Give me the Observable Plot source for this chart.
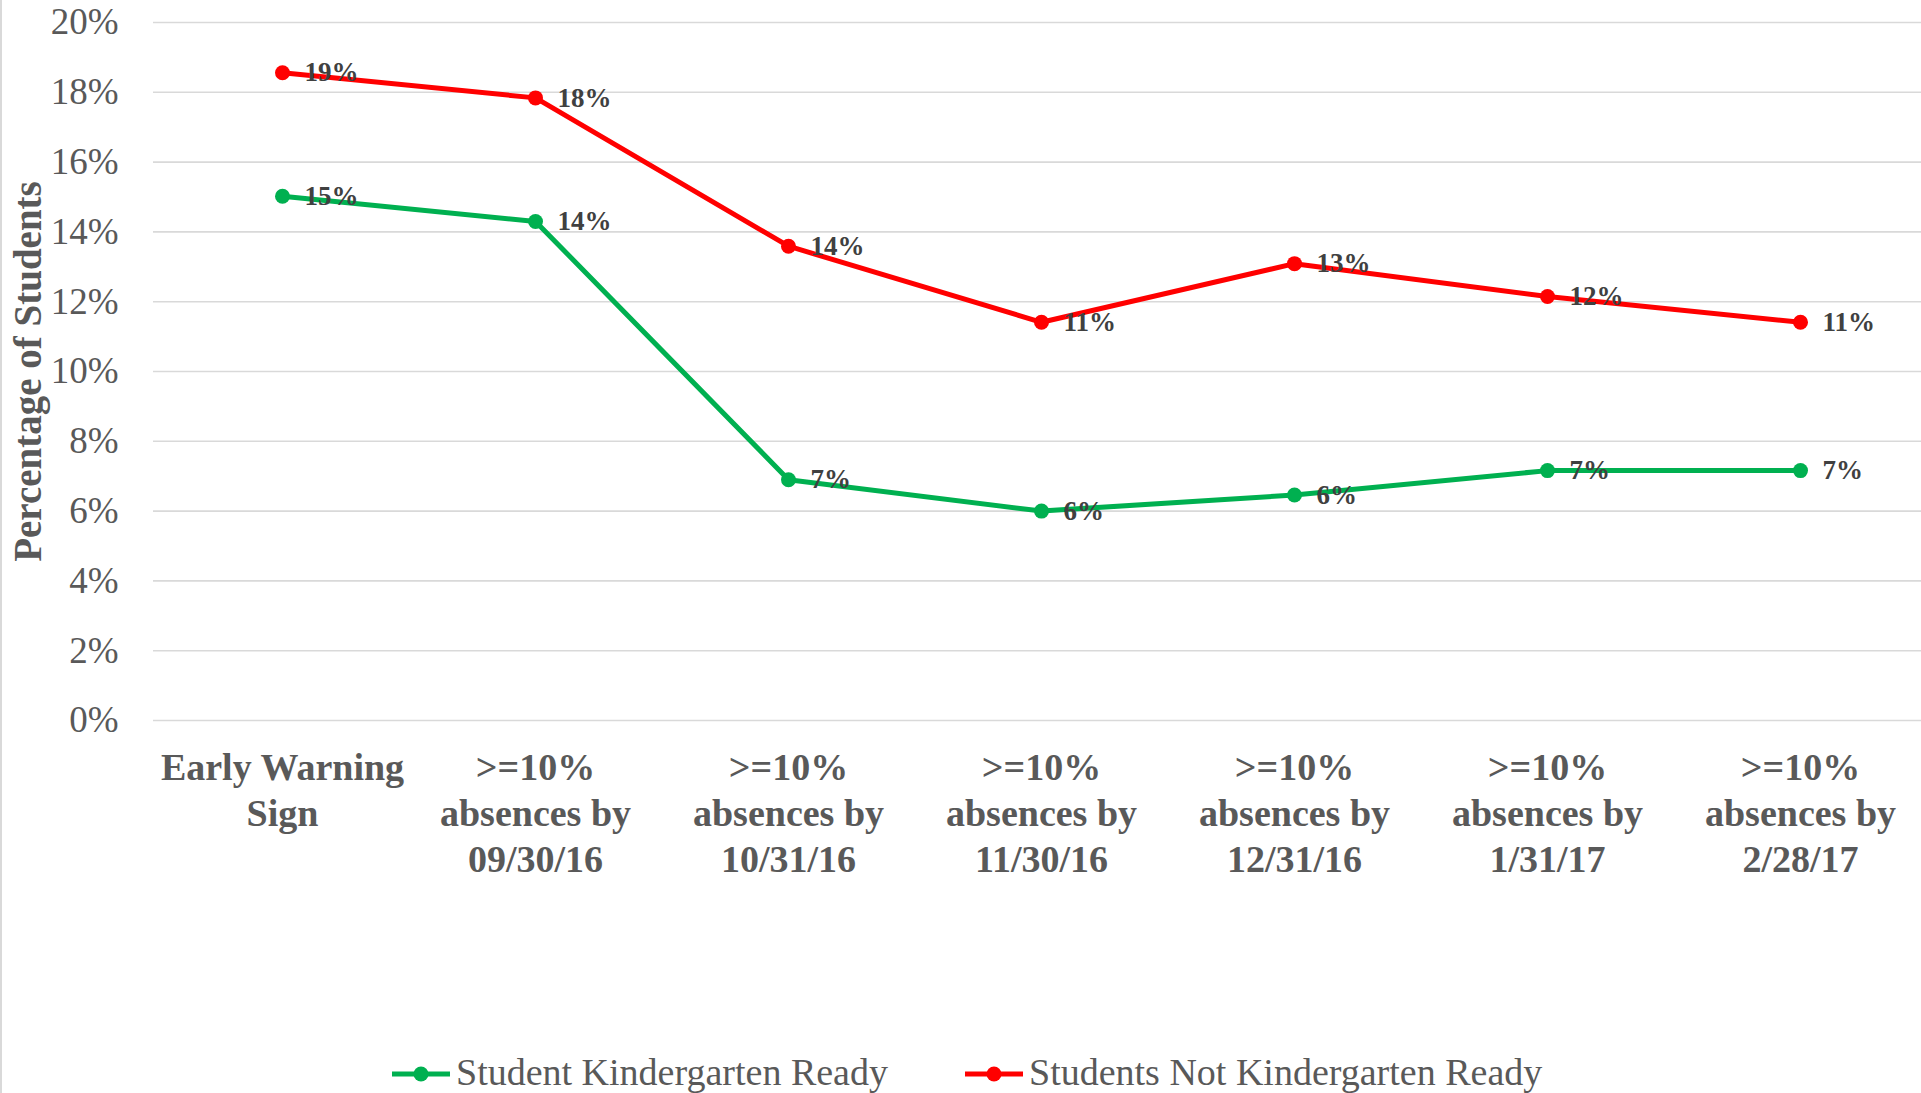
<!DOCTYPE html>
<html>
<head>
<meta charset="utf-8">
<script src="https://cdn.jsdelivr.net/npm/d3@7"></script>
<script src="https://cdn.jsdelivr.net/npm/@observablehq/plot@0.6"></script>
<style>
  html, body { margin: 0; padding: 0; background: #fff; width: 1921px; height: 1093px; overflow: hidden; }
  body { position: relative; font-family: "Liberation Serif", "Times New Roman", serif; }
  #edge { position: absolute; left: 0; top: 0; width: 2px; height: 1093px; background: #d9d9d9; }
  #chart { position: absolute; left: 0; top: 0; }
  #legend { position: absolute; left: 0; top: 1053px; width: 1921px; height: 40px; }
  .item { position: absolute; top: 0; display: flex; align-items: flex-start; font-size: 38px; line-height: 38px; color: #595959; white-space: nowrap; }
  .item svg { margin-top: 11px; margin-right: 6px; }
</style>
</head>
<body>
<div id="edge"></div>
<div id="chart"></div>
<div id="legend"></div>
<script>
const categories = [
  "Early Warning\nSign",
  ">=10%\nabsences by\n09/30/16",
  ">=10%\nabsences by\n10/31/16",
  ">=10%\nabsences by\n11/30/16",
  ">=10%\nabsences by\n12/31/16",
  ">=10%\nabsences by\n1/31/17",
  ">=10%\nabsences by\n2/28/17"
];
const seriesNames = ["Student Kindergarten Ready", "Students Not Kindergarten Ready"];
const seriesColors = ["#00B050", "#FF0000"];
const readyValues = [0.1502, 0.1430, 0.0690, 0.0600, 0.0646, 0.0716, 0.0716];
const notReadyValues = [0.1856, 0.1784, 0.1359, 0.1141, 0.1309, 0.1215, 0.1141];
const yTicks = [0, 0.02, 0.04, 0.06, 0.08, 0.10, 0.12, 0.14, 0.16, 0.18, 0.20];
const yTitle = "Percentage of Students";

const data = [
  ...categories.map((c, i) => ({category: c, value: readyValues[i], series: seriesNames[0]})),
  ...categories.map((c, i) => ({category: c, value: notReadyValues[i], series: seriesNames[1]}))
];

const pct = d3.format(".0%");

const chart = Plot.plot({
  width: 1921,
  height: 1030,
  marginLeft: 153,
  marginRight: 0,
  marginTop: 22,
  marginBottom: 310,
  style: {fontFamily: "'Liberation Serif', 'Times New Roman', serif", background: "transparent", overflow: "visible"},
  x: {type: "point", domain: categories, range: [280, 1802], padding: 0},
  y: {domain: [0, 0.2]},
  color: {domain: seriesNames, range: seriesColors},
  marks: [
    Plot.ruleY(yTicks, {stroke: "#d9d9d9", strokeWidth: 1.6}),
    Plot.axisY(yTicks, {tickFormat: pct, tickSize: 0, tickPadding: 35, fontSize: 37, color: "#595959", fill: "#595959", label: null}),
    Plot.axisX(categories, {tickFormat: d => d, tickSize: 0, tickPadding: 27, fontSize: 38, fontWeight: "bold", lineHeight: 1.21, color: "#595959", fill: "#595959", label: null}),
    Plot.text([yTitle], {frameAnchor: "left", textAnchor: "middle", lineAnchor: "middle", rotate: -90, dx: -125, fontSize: 39, fontWeight: "bold", fill: "#595959"}),
    Plot.line(data, {x: "category", y: "value", z: "series", stroke: "series", strokeWidth: 5}),
    Plot.dot(data, {x: "category", y: "value", fill: "series", r: 7.5, stroke: "none"}),
    Plot.text(data, {x: "category", y: "value", text: d => pct(d.value), textAnchor: "start", dx: 22, fontSize: 27, fontWeight: "bold", fill: "#404040"})
  ]
});
document.getElementById("chart").appendChild(chart);

const legend = document.getElementById("legend");
const legendX = [392, 965];
seriesNames.forEach((name, i) => {
  const item = document.createElement("div");
  item.className = "item";
  item.style.left = legendX[i] + "px";
  const c = seriesColors[i];
  item.innerHTML = `<svg width="58" height="20"><line x1="0" x2="58" y1="10" y2="10" stroke="${c}" stroke-width="5"/><circle cx="29" cy="10" r="7.5" fill="${c}"/></svg><span>${name}</span>`;
  legend.appendChild(item);
});
</script>
</body>
</html>
